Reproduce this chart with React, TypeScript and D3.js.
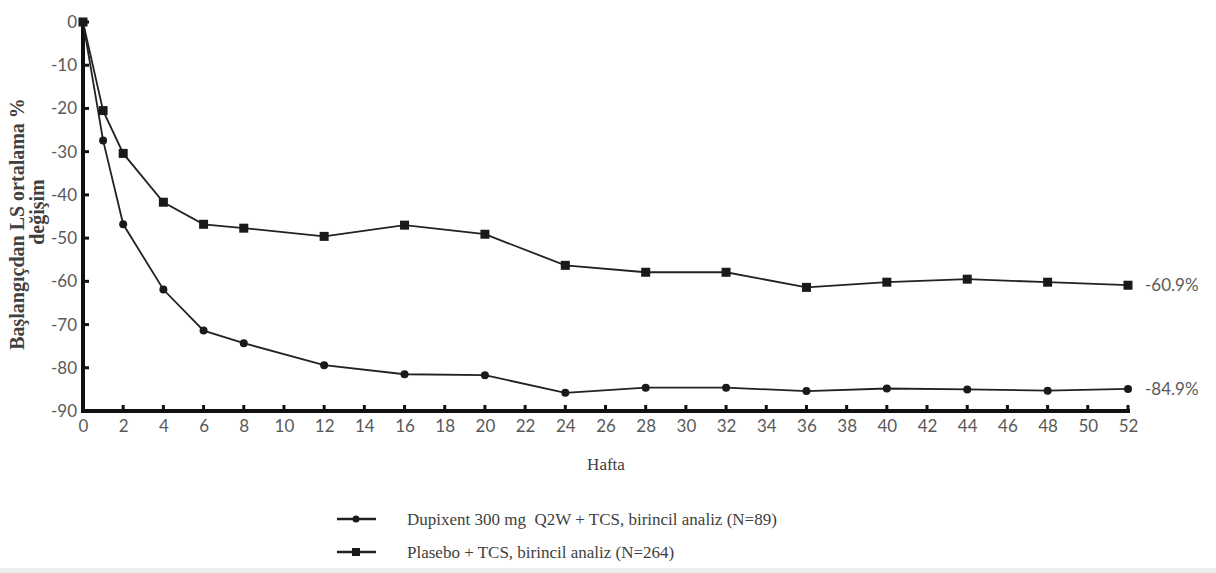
import { FC, useEffect, useRef } from 'react';
import * as d3 from 'd3';

const weeks = [0, 1, 2, 4, 6, 8, 12, 16, 20, 24, 28, 32, 36, 40, 44, 48, 52];
const dupixent = [0, -27.4, -46.8, -61.9, -71.4, -74.3, -79.4, -81.5, -81.7, -85.8, -84.6, -84.6, -85.4, -84.8, -85.0, -85.3, -84.9];
const placebo = [0, -20.5, -30.4, -41.7, -46.8, -47.7, -49.6, -47.0, -49.1, -56.3, -57.9, -57.9, -61.4, -60.2, -59.5, -60.2, -60.9];
const xTicks = d3.range(0, 54, 2);
const yTicks = [0, -10, -20, -30, -40, -50, -60, -70, -80, -90];
const endLabels = ['-60.9%', '-84.9%'];
const legendLabels = [
  'Dupixent 300 mg\u00a0 Q2W + TCS, birincil analiz (N=89)',
  'Plasebo + TCS, birincil analiz (N=264)',
];

const width = 1216;
const height = 573;
const sans = 'Lato, "Open Sans", sans-serif';
const serif = '"Liberation Serif", "Times New Roman", Times, serif';

const Chart: FC = () => {
  const svgRef = useRef<SVGSVGElement | null>(null);

  useEffect(() => {
    if (!svgRef.current) return;
    const svg = d3.select(svgRef.current);
    svg.selectAll('*').remove();

    const x = d3.scaleLinear().domain([0, 52]).range([83, 1128]);
    const y = d3.scaleLinear().domain([0, -90]).range([22, 411]);

    svg.append('rect').attr('x', 0).attr('y', 568).attr('width', width).attr('height', 5).attr('fill', '#ececec');

    // Y axis
    const yAxis = svg.append('g')
      .attr('transform', `translate(${x(0)},0)`)
      .call(d3.axisLeft(y).tickValues(yTicks).tickSize(0).tickPadding(6).tickFormat(d => String(d)));
    yAxis.select('.domain').remove();
    yAxis.selectAll('text')
      .attr('font-family', sans)
      .attr('font-size', 17)
      .attr('fill', '#595959');

    // y ticks pointing inward
    svg.append('g').selectAll('line')
      .data(yTicks)
      .enter()
      .append('line')
      .attr('x1', x(0))
      .attr('x2', x(0) + 6)
      .attr('y1', d => y(d))
      .attr('y2', d => y(d))
      .attr('stroke', '#111')
      .attr('stroke-width', 3);

    // X axis
    const xAxis = svg.append('g')
      .attr('transform', `translate(0,${y(-90)})`)
      .call(d3.axisBottom(x).tickValues(xTicks).tickSize(0).tickPadding(9).tickFormat(d => String(d)));
    xAxis.select('.domain').remove();
    xAxis.selectAll('text')
      .attr('font-family', sans)
      .attr('font-size', 17)
      .attr('fill', '#595959');

    svg.append('g').selectAll('line')
      .data(xTicks.filter(d => d > 0))
      .enter()
      .append('line')
      .attr('x1', d => x(d))
      .attr('x2', d => x(d))
      .attr('y1', y(-90))
      .attr('y2', y(-90) - 6)
      .attr('stroke', '#111')
      .attr('stroke-width', 3);

    // axis lines
    svg.append('line')
      .attr('x1', x(0)).attr('x2', x(0))
      .attr('y1', y(0) - 2).attr('y2', y(-90) + 2)
      .attr('stroke', '#111').attr('stroke-width', 4);
    svg.append('line')
      .attr('x1', x(0) - 2).attr('x2', x(52) + 2)
      .attr('y1', y(-90)).attr('y2', y(-90))
      .attr('stroke', '#111').attr('stroke-width', 4);

    const line = d3.line<[number, number]>()
      .x(d => x(d[0]))
      .y(d => y(d[1]));

    const dupData = weeks.map((w, i) => [w, dupixent[i]] as [number, number]);
    const plaData = weeks.map((w, i) => [w, placebo[i]] as [number, number]);

    svg.append('path').datum(plaData)
      .attr('fill', 'none').attr('stroke', '#222').attr('stroke-width', 1.8).attr('d', line);
    svg.append('path').datum(dupData)
      .attr('fill', 'none').attr('stroke', '#222').attr('stroke-width', 1.8).attr('d', line);

    svg.append('g').selectAll('rect')
      .data(plaData)
      .enter()
      .append('rect')
      .attr('x', d => x(d[0]) - 4.5)
      .attr('y', d => y(d[1]) - 4.5)
      .attr('width', 9)
      .attr('height', 9)
      .attr('fill', '#1a1a1a');

    svg.append('g').selectAll('circle')
      .data(dupData)
      .enter()
      .append('circle')
      .attr('cx', d => x(d[0]))
      .attr('cy', d => y(d[1]))
      .attr('r', 4)
      .attr('fill', '#1a1a1a');

    // end labels
    const lastIdx = weeks.length - 1;
    [placebo[lastIdx], dupixent[lastIdx]].forEach((v, i) => {
      svg.append('text')
        .attr('x', x(52) + 17)
        .attr('y', y(v))
        .attr('dy', '0.35em')
        .attr('font-family', sans)
        .attr('font-size', 17)
        .attr('fill', '#595959')
        .text(endLabels[i]);
    });

    // y axis title
    svg.append('text')
      .attr('transform', 'translate(24,224) rotate(-90)')
      .attr('text-anchor', 'middle')
      .attr('font-family', serif)
      .attr('font-weight', 'bold')
      .attr('font-size', 20)
      .attr('fill', '#404040')
      .text('Başlangıçdan LS ortalama %');
    svg.append('text')
      .attr('transform', 'translate(44,212) rotate(-90)')
      .attr('text-anchor', 'middle')
      .attr('font-family', serif)
      .attr('font-weight', 'bold')
      .attr('font-size', 20)
      .attr('fill', '#404040')
      .text('değişim');

    // x axis title
    svg.append('text')
      .attr('x', 606)
      .attr('y', 470)
      .attr('text-anchor', 'middle')
      .attr('font-family', serif)
      .attr('font-size', 17)
      .attr('fill', '#404040')
      .text('Hafta');

    // legend
    const legend = svg.append('g');
    [0, 1].forEach(i => {
      const ly = 519 + i * 33;
      legend.append('line')
        .attr('x1', 337).attr('x2', 376)
        .attr('y1', ly).attr('y2', ly)
        .attr('stroke', '#222').attr('stroke-width', 2.5);
      if (i === 0) {
        legend.append('circle').attr('cx', 356).attr('cy', ly).attr('r', 3.5).attr('fill', '#1a1a1a');
      } else {
        legend.append('rect').attr('x', 352).attr('y', ly - 4).attr('width', 8).attr('height', 8).attr('fill', '#1a1a1a');
      }
      legend.append('text')
        .attr('x', 407)
        .attr('y', ly)
        .attr('dy', '0.33em')
        .attr('font-family', serif)
        .attr('font-size', 17)
        .attr('fill', '#404040')
        .text(legendLabels[i]);
    });
  }, []);

  return (
    <svg
      ref={svgRef}
      width={width}
      height={height}
      style={{ position: 'absolute', left: 0, top: 0, background: '#fff' }}
    />
  );
};

export default function App() {
  return <Chart />;
}
